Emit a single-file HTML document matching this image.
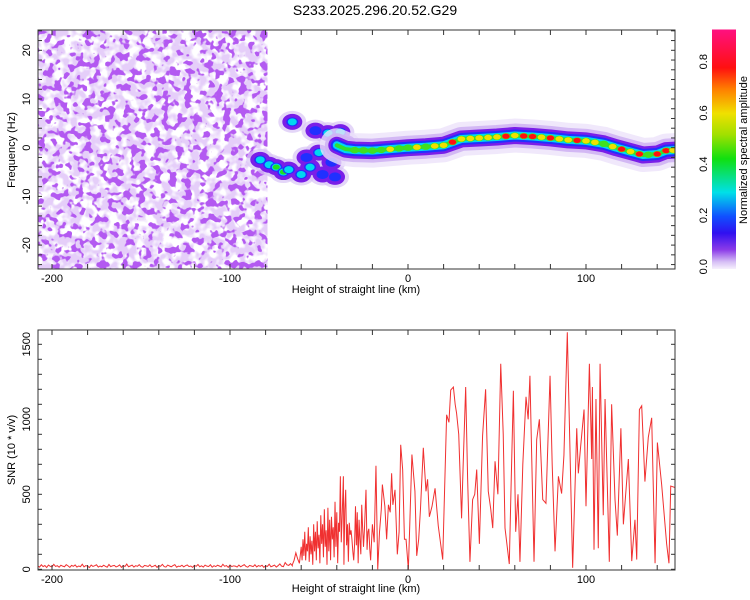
<!DOCTYPE html>
<html><head><meta charset="utf-8"><style>
body{margin:0;background:#fff;}
svg{display:block;font-family:"Liberation Sans",sans-serif;}
</style></head><body>
<svg id="chart" width="750" height="600" viewBox="0 0 750 600">
<defs>
<filter id="noiseA" x="0" y="0" width="100%" height="100%"><feTurbulence type="fractalNoise" baseFrequency="0.11" numOctaves="2" seed="3"/><feColorMatrix type="matrix" values="0 0 0 0 0.78  0 0 0 0 0.62  0 0 0 0 0.95  5 0 0 0 -1.9"/></filter>
<filter id="noiseB" x="0" y="0" width="100%" height="100%"><feTurbulence type="fractalNoise" baseFrequency="0.13" numOctaves="2" seed="11"/><feColorMatrix type="matrix" values="0 0 0 0 0.45  0 0 0 0 0.10  0 0 0 0 0.88  14 0 0 0 -7.6"/></filter>
<linearGradient id="cbar" x1="0" y1="1" x2="0" y2="0">
<stop offset="0" stop-color="#f6f0fd"/><stop offset="0.03" stop-color="#d6bff5"/><stop offset="0.08" stop-color="#8c3ce8"/><stop offset="0.15" stop-color="#3010f0"/><stop offset="0.22" stop-color="#1050ff"/><stop offset="0.32" stop-color="#00e0e8"/><stop offset="0.46" stop-color="#10e010"/><stop offset="0.56" stop-color="#a0e000"/><stop offset="0.65" stop-color="#f0e000"/><stop offset="0.75" stop-color="#ff8000"/><stop offset="0.84" stop-color="#ff1010"/><stop offset="1" stop-color="#ff1080"/>
</linearGradient>
<clipPath id="clipTop"><rect x="38" y="30" width="637" height="239"/></clipPath>
<clipPath id="clipBot"><rect x="38" y="330" width="637" height="240"/></clipPath>
</defs>
<text x="375" y="15" text-anchor="middle" font-size="14">S233.2025.296.20.52.G29</text>
<g id="topPanel"></g>
<g id="botPanel"></g>
<g id="cb"></g>
</svg>
<script>
// ---- data ----
const ridgeKm = [-40,-35,-30,-20,-10,0,10,20,30,40,50,60,70,80,90,100,110,117,125,132,140,145,150];
const ridgeHz = [0.5,-0.3,-0.5,-0.6,-0.3,0,0.2,0.5,1.8,2.0,2.2,2.5,2.3,2.0,1.6,1.4,0.8,0,-0.8,-1.5,-1.3,-0.6,-0.5];
const hotKm  = [-30,-25,-20,-15,-10,-5,0,5,10,15,20,25,30,35,40,45,50,55,60,65,70,75,80,85,90,95,100,105,110,115,120,125,130,135,140,145,149];
const hotAmp = [0.45,0.5,0.45,0.55,0.6,0.5,0.55,0.6,0.5,0.7,0.6,0.8,0.6,0.7,0.75,0.6,0.7,0.85,0.6,0.8,0.9,0.6,0.85,0.7,0.6,0.8,0.6,0.75,0.5,0.6,0.85,0.6,0.8,0.5,0.8,0.85,0.6];
const blobKm  = [-83,-78,-74,-70,-67,-65,-60,-57,-55,-52,-50,-48,-45,-43,-41,-38,-35];
const blobHz  = [-2.5,-3.5,-4,-5,-4.5,5.3,-5.5,-2,-4,3.5,-1,-5.5,3,-3,-6,3.2,1];
const blobAmp = [0.3,0.4,0.45,0.5,0.4,0.35,0.3,0.2,0.3,0.25,0.3,0.25,0.3,0.25,0.2,0.35,0.25];
const xTicks = [-200,-100,0,100];
const yTicksTop = [-20,-10,0,10,20];
const yTicksBot = [0,500,1000,1500];
const cbTicks = [0.0,0.2,0.4,0.6,0.8];
const floorStart = -208;
const floorVals = [22,15,30,18,25,12,28,20,16,33,19,24,14,27,21,17,31,23,13,26,20,29,15,22,18,34,16,25,21,12,28,19,24,30,15,22,17,27,20,14,32,18,23,26,16,21,29,13,25,19,35,17,22,28,15,24,20,31,18,14,26,23,19,30,16,21,27,13,24,20,33,18,15,28,22,17,25,31,14,21,19,27,16,24,29,18,22,13,26,20,32,17,23,15,28,21,19,30,14,24,18,27,22,16,33,20,25,13,29,18,23,21,15,28,17,24,31,19,14,26,22,18,30,16,25,20,27,13,23,19,34,17,22,28,15,24,36,21,18,45,30,26,38,24];
const snrKm = [-65,-64,-63,-62,-61,-60,-59.5,-59,-58.5,-58,-57.5,-57,-56.5,-56,-55.5,-55,-54.5,-54,-53.5,-53,-52.5,-52,-51.5,-51,-50.5,-50,-49.5,-49,-48.5,-48,-47.5,-47,-46.5,-46,-45.5,-45,-44.5,-44,-43.5,-43,-42.5,-42,-41.5,-41,-40.5,-40,-39.5,-39,-38.5,-38,-37.5,-37,-36.3,-36,-35.5,-35,-34.5,-34,-33.5,-33,-32.5,-32,-31.5,-31,-30.5,-30,-29.5,-29,-28.5,-28,-27.5,-27,-26.5,-26,-25.5,-25,-24.5,-23.6,-23,-22.5,-22,-21.5,-21,-20,-19,-18,-17,-16,-15,-14.4,-13,-12,-11,-10,-9.2,-8.5,-7.3,-6,-5,-4.1,-3,-2,-1.1,0.2,1,2.2,3.9,4.9,6,7,8.6,10.1,11,12,13.5,15.2,17,18,19.5,21.7,23,24,25.5,26.5,27.3,28.5,30.1,31,32.4,33.5,34.8,36.3,37.5,38.6,40.1,41.9,43.6,45.1,46.5,47.6,48.9,50.5,52.1,53.5,54.5,56.9,58,59.2,60.5,61.8,62.9,64.5,66.3,67.5,68.5,70.8,72.3,73.8,75.7,77.5,79.8,81,82.6,84.5,86.3,87.6,89.5,92.5,94.8,95.7,97,98.9,100,101.9,103.2,103.6,104.5,105.6,106.9,107.9,109.7,110.7,113.1,114.4,116.3,117.6,119.6,121,123.8,125.7,127.5,128.5,130,131.3,133.1,135,136.9,138.8,140.1,142.5,145.3,146.6,147.6,150];
const snrVal = [30,60,110,70,40,150,60,200,90,250,60,170,120,280,50,220,100,190,30,300,120,250,60,320,140,230,40,360,170,300,80,400,150,260,30,410,120,330,60,350,200,280,80,450,150,380,40,310,250,620,180,350,620,30,400,530,160,300,50,310,230,260,200,120,60,170,420,160,380,40,330,200,100,430,280,150,260,530,130,250,270,140,60,300,180,690,0,250,400,565,420,200,430,380,640,430,530,100,250,830,665,200,200,0,300,765,520,90,200,400,810,520,600,350,420,540,290,200,65,1030,980,1195,1215,1100,1040,900,340,700,1215,600,50,465,500,665,170,890,1200,520,400,275,720,500,1370,900,275,35,600,1190,250,500,50,700,1150,1000,1290,50,865,1000,465,440,1290,700,120,620,505,760,1580,10,940,640,820,1065,420,1370,735,1215,130,1135,140,1370,360,1135,50,1100,465,225,940,300,735,55,330,65,1065,1090,585,880,1010,40,845,565,170,40,555,545];

// ---- scales ----
const X0=38,X1=675;
const kx = v => 408 + v*1.78;
const fy = v => 147.7 - v*4.87;
const sy = v => 569.3 - v*0.15;
const cy = v => 266.7 - v*256.25;
const NS='http://www.w3.org/2000/svg';
function mk(tag, attrs, parent){const e=document.createElementNS(NS,tag);for(const k in attrs)e.setAttribute(k,attrs[k]);parent.appendChild(e);return e;}

// ---- top panel ----
const topG=document.getElementById('topPanel');
const heat=mk('g',{'clip-path':'url(#clipTop)'},topG);


const nA=mk('rect',{x:X0,y:30,width:kx(-79)-X0,height:239,filter:'url(#noiseA)'},heat);


const nB=mk('rect',{x:X0,y:30,width:kx(-79)-X0,height:239,filter:'url(#noiseB)'},heat);


function interpHz(k){for(let i=0;i<ridgeKm.length-1;i++){if(k<=ridgeKm[i+1]){const t=(k-ridgeKm[i])/(ridgeKm[i+1]-ridgeKm[i]);return ridgeHz[i]+t*(ridgeHz[i+1]-ridgeHz[i]);}}return ridgeHz[ridgeHz.length-1];}
const halo=mk('g',{},heat);


blobKm.forEach((k,i)=>{mk('ellipse',{cx:kx(k),cy:fy(blobHz[i]),rx:14,ry:11,fill:'#d8c4f5',opacity:0.7},halo);});
blobKm.forEach((k,i)=>{mk('ellipse',{cx:kx(k),cy:fy(blobHz[i]),rx:10,ry:8,fill:'#7a1ee8'},halo);});
function blob(x,y,a,parent){
  if(a>0.15)mk('ellipse',{cx:x,cy:y,rx:6,ry:4.5,fill:'#2030ff'},parent);
  if(a>0.25)mk('ellipse',{cx:x,cy:y,rx:4.5,ry:3.5,fill:'#00d8f0'},parent);
  if(a>0.4)mk('ellipse',{cx:x,cy:y,rx:3.5,ry:2.5,fill:'#20e020'},parent);
  if(a>0.55)mk('ellipse',{cx:x,cy:y,rx:3,ry:2.2,fill:'#f0e000'},parent);
  if(a>0.75)mk('ellipse',{cx:x,cy:y,rx:2.6,ry:2,fill:'#ff1010'},parent);
}
const blobs=mk('g',{},heat);


blobKm.forEach((k,i)=>blob(kx(k),fy(blobHz[i]),blobAmp[i],blobs));
const pts=ridgeKm.map((k,i)=>kx(k)+','+fy(ridgeHz[i])).join(' ');
const ridge=mk('g',{fill:'none','stroke-linejoin':'round','stroke-linecap':'round'},heat);


[[34,'#ece2fa',0.8],[24,'#cfb2f3',0.9],[17,'#7a1ee8',1],[12,'#2030ff',1],[8,'#00d8f0',1],[4,'#30e030',1]].forEach(s=>mk('polyline',{points:pts,stroke:s[1],'stroke-width':s[0],opacity:s[2]},ridge));
hotKm.forEach((k,i)=>{const a=hotAmp[i];const x=kx(k),y=fy(interpHz(k));
  mk('ellipse',{cx:x,cy:y,rx:4.5,ry:3.2,fill:'#40e020'},ridge);
  if(a>0.55)mk('ellipse',{cx:x,cy:y,rx:3.8,ry:2.7,fill:'#f0e000'},ridge);
  if(a>0.75)mk('ellipse',{cx:x,cy:y,rx:3.8,ry:2.6,fill:'#ff1010'},ridge);
});
mk('rect',{x:X0,y:30,width:X1-X0,height:239,fill:'none',stroke:'#333','stroke-width':1},topG);
function xAxis(g,yT,yB,labelY){
  for(let v=-200;v<=140;v+=20){const x=kx(v);if(x<X0)continue;
    mk('line',{x1:x,y1:yB,x2:x,y2:yB-5,stroke:'#333'},g);mk('line',{x1:x,y1:yT,x2:x,y2:yT+5,stroke:'#333'},g);}
  xTicks.forEach(v=>{const t=mk('text',{x:kx(v),y:yB+13,'text-anchor':'middle','font-size':11},g);t.textContent=v;
    
    });
  const l=mk('text',{x:356,y:labelY,'text-anchor':'middle','font-size':11},g);l.textContent='Height of straight line (km)';
  
  
}
xAxis(topG,30,269,293);
for(let v=-24;v<=24;v+=2){const y=fy(v);mk('line',{x1:X0,y1:y,x2:X0+4,y2:y,stroke:'#333'},topG);mk('line',{x1:X1,y1:y,x2:X1-4,y2:y,stroke:'#333'},topG);}
yTicksTop.forEach(v=>{const t=mk('text',{x:0,y:0,transform:`translate(30,${fy(v)}) rotate(-90)`,'text-anchor':'middle','font-size':11},topG);t.textContent=v;
  
  });
const yl=mk('text',{transform:'translate(15,150) rotate(-90)','text-anchor':'middle','font-size':11},topG);yl.textContent='Frequency (Hz)';



// ---- colorbar ----
const cb=document.getElementById('cb');
mk('rect',{x:712,y:29.5,width:24,height:239.5,fill:'url(#cbar)'},cb);
cbTicks.forEach(v=>{const t=mk('text',{transform:`translate(707,${cy(v)}) rotate(-90)`,'text-anchor':'middle','font-size':11},cb);t.textContent=v.toFixed(1);
  
  });
const cl=mk('text',{transform:'translate(747,150) rotate(-90)','text-anchor':'middle','font-size':11},cb);cl.textContent='Normalized spectral amplitude';



// ---- bottom panel ----
const botG=document.getElementById('botPanel');
let d='';
floorVals.forEach((v,i)=>{d+=(i?'L':'M')+kx(floorStart+i)+','+sy(v);});
snrKm.forEach((k,i)=>{d+='L'+kx(k)+','+sy(snrVal[i]);});
const line=mk('path',{d:d,fill:'none',stroke:'#f03030','stroke-width':1,'clip-path':'url(#clipBot)'},botG);


mk('rect',{x:X0,y:330,width:X1-X0,height:240,fill:'none',stroke:'#333','stroke-width':1},botG);
xAxis(botG,330,570,592);
for(let v=0;v<=1550;v+=100){const y=sy(v);mk('line',{x1:X0,y1:y,x2:X0+4,y2:y,stroke:'#333'},botG);mk('line',{x1:X1,y1:y,x2:X1-4,y2:y,stroke:'#333'},botG);}
yTicksBot.forEach(v=>{const t=mk('text',{transform:`translate(30,${sy(v)}) rotate(-90)`,'text-anchor':'middle','font-size':11},botG);t.textContent=v;
  
  });
const yl2=mk('text',{transform:'translate(15,450) rotate(-90)','text-anchor':'middle','font-size':11},botG);yl2.textContent='SNR (10 * v/v)';


</script>
</body></html>
